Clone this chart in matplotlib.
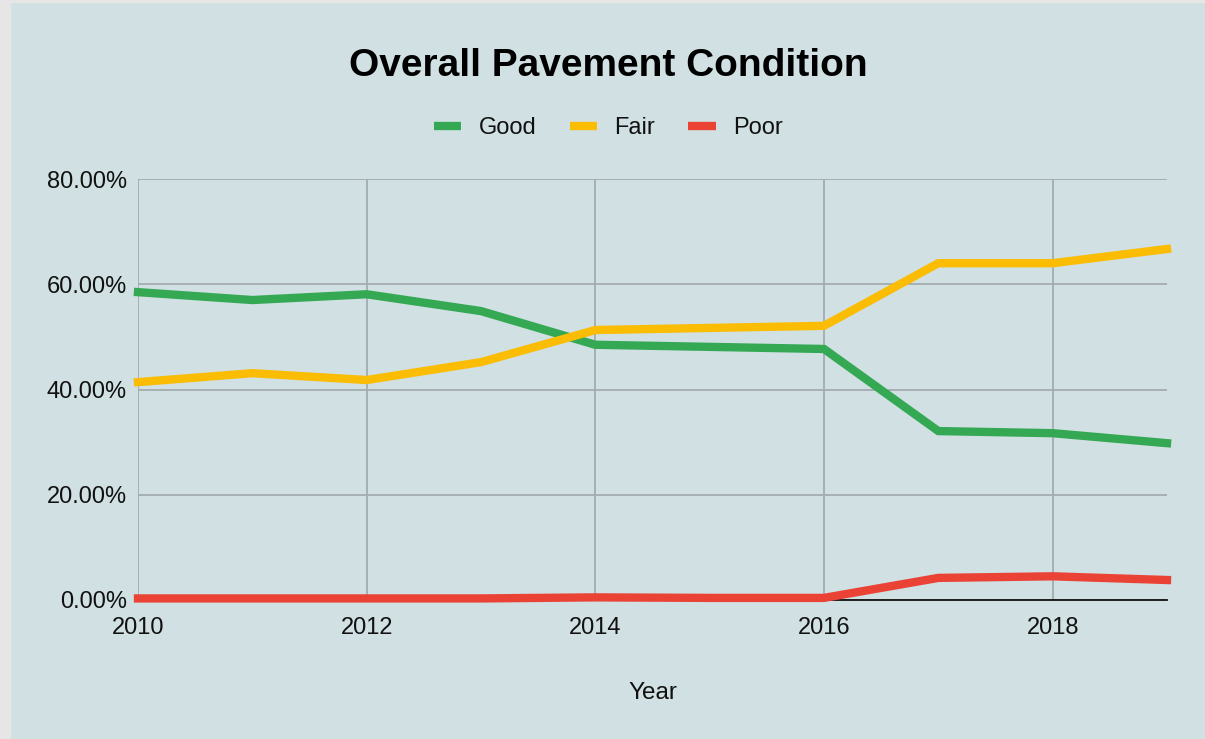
import matplotlib.pyplot as plt
from matplotlib.patches import Rectangle
from matplotlib.ticker import FuncFormatter, MultipleLocator

plt.rcParams["font.family"] = ["Liberation Sans", "DejaVu Sans"]

years = [2010, 2011, 2012, 2013, 2014, 2015, 2016, 2017, 2018, 2019]
good = [58.5, 57.0, 58.1, 54.9, 48.5, 48.1, 47.7, 32.1, 31.7, 29.8]
fair = [41.4, 43.1, 41.8, 45.2, 51.3, 51.7, 52.1, 64.0, 64.0, 66.7]
poor = [0.3, 0.3, 0.3, 0.3, 0.5, 0.4, 0.4, 4.2, 4.5, 3.8]

series_names = ["Good", "Fair", "Poor"]
colors = ["#34a853", "#fbbc04", "#ea4335"]
bg = "#d0e0e3"

fig = plt.figure(figsize=(12.05, 7.39), dpi=100, facecolor=bg)
# screenshot border strips on left and top
fig.patches.append(Rectangle((0, 0), 10 / 1205, 1, transform=fig.transFigure, color="#e6e6e6", zorder=0))
fig.patches.append(Rectangle((0, 1 - 2 / 739), 1, 2 / 739, transform=fig.transFigure, color="#e6e6e6", zorder=0))

ax = fig.add_axes([138 / 1205, 139 / 739, 1029 / 1205, 421 / 739])
ax.set_facecolor(bg)

for vals, name, c in zip([good, fair, poor], series_names, colors):
    ax.plot(years, vals, color=c, lw=6, label=name, solid_joinstyle="miter", zorder=3, clip_on=False)

ax.set_xlim(2010, 2019)
ax.set_ylim(0, 80)
ax.xaxis.set_major_locator(MultipleLocator(2))
ax.yaxis.set_major_locator(MultipleLocator(20))
ax.yaxis.set_major_formatter(FuncFormatter(lambda v, p: f"{v:.2f}%"))
ax.grid(True, color="#a3adae", lw=1.3, zorder=1)
for s in ["top", "right", "left"]:
    ax.spines[s].set_visible(False)
ax.spines["bottom"].set_color("#111111")
ax.spines["bottom"].set_linewidth(1.3)
ax.spines["bottom"].set_zorder(2)
ax.tick_params(length=0, labelsize=17, colors="#111111")
ax.tick_params(axis="y", pad=8)
ax.tick_params(axis="x", pad=12)

ax.set_xlabel("Year", fontsize=17.5, labelpad=31, color="#111111")
fig.text(0.505, 1 - 66 / 739, "Overall Pavement Condition", ha="center", va="center",
         fontsize=28, fontweight="bold")

leg = fig.legend(loc="center", bbox_to_anchor=(0.505, 1 - 128 / 739), ncol=3, frameon=False,
                 fontsize=17, handlelength=1.15, handletextpad=0.75, columnspacing=1.4)
for line in leg.get_lines():
    line.set_linewidth(6)
    line.set_solid_capstyle("butt")
for t in leg.get_texts():
    t.set_color("#111111")

fig.savefig("out.png", dpi=100, facecolor=bg)
